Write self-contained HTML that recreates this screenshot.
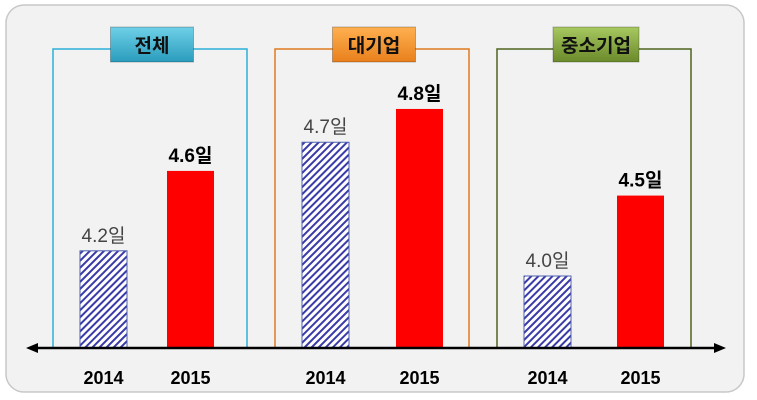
<!DOCTYPE html>
<html><head><meta charset="utf-8"><style>
html,body{margin:0;padding:0;background:#fff;}
svg{display:block;font-family:"Liberation Sans","Noto Sans CJK KR",sans-serif;}
</style></head><body>
<svg id="chart" width="757" height="400" viewBox="0 0 757 400">
<defs>
<pattern id="hatch" width="5" height="5" patternUnits="userSpaceOnUse" patternTransform="rotate(45)">
<rect width="5" height="5" fill="#fff"/><rect width="2" height="5" fill="#3a3aa8"/></pattern>
<linearGradient id="g0" x1="0" y1="0" x2="0" y2="1"><stop offset="0" stop-color="#6fd0e8"/><stop offset="1" stop-color="#2a9cbc"/></linearGradient>
<linearGradient id="g1" x1="0" y1="0" x2="0" y2="1"><stop offset="0" stop-color="#ffb050"/><stop offset="1" stop-color="#e8801c"/></linearGradient>
<linearGradient id="g2" x1="0" y1="0" x2="0" y2="1"><stop offset="0" stop-color="#a8c860"/><stop offset="1" stop-color="#6a8a2c"/></linearGradient>
</defs>
<rect x="6" y="5" width="738" height="387" rx="18" fill="#f2f2f2" stroke="#c8c8c8" stroke-width="1.5"/>
<g id="groups"></g>
<line x1="32" y1="348" x2="720" y2="348" stroke="#000" stroke-width="2.5"/>
<polygon points="26,348 38,343 38,353" fill="#000"/>
<polygon points="726,348 714,343 714,353" fill="#000"/>
</svg>
<script>
const groups = ["전체", "대기업", "중소기업"];
const years = ["2014", "2015"];
const values2014 = [4.2, 4.7, 4.0];
const values2015 = [4.6, 4.8, 4.5];

const NS = "http://www.w3.org/2000/svg";
const baseY = 348;
function hScale(v){ return 72*Math.exp(1.5*(v-4.0)); }
const frameX = [53, 275, 497];
const frameColors = ["#2ab0d8", "#e07a20", "#4e6420"];
const grads = ["url(#g0)", "url(#g1)", "url(#g2)"];
const labelW = [83, 83, 86];
const off2015 = [114, 121, 120];
const g = document.getElementById("groups");
function mk(tag, attrs){ const e=document.createElementNS(NS,tag); for(const k in attrs) e.setAttribute(k,attrs[k]); g.appendChild(e); return e; }

groups.forEach((name,i)=>{
  const fx = frameX[i], fw = 194;
  const fr = mk("path",{d:`M${fx},${baseY} V49 H${fx+fw} V${baseY}`,fill:"none",stroke:frameColors[i],"stroke-width":1.5});
  
  
  const lx = fx + fw/2 - labelW[i]/2 + 2;
  const lb = mk("rect",{x:lx,y:27,width:labelW[i],height:35,fill:grads[i],stroke:"rgba(0,0,0,0.25)"});
  
  
  const lt = mk("text",{x:lx+labelW[i]/2,y:52,"text-anchor":"middle","font-size":19,"font-weight":"bold",fill:"#111"});
  lt.textContent = name;
  
  
  const vals = [values2014[i], values2015[i]];
  const bx = [fx+27, fx+off2015[i]];
  vals.forEach((v,j)=>{
    const h = hScale(v);
    const b = mk("rect",{x:bx[j],y:baseY-h,width:47,height:h,fill:j===0?"url(#hatch)":"#ff0000",stroke:j===0?"#5060b0":"none","stroke-width":1});
    
    
    const t = mk("text",{x:bx[j]+23.5,y:baseY-h-9,"text-anchor":"middle","font-size":19,"font-weight":j===0?"normal":"bold",fill:j===0?"#444":"#000"});
    t.textContent = v.toFixed(1)+"일";
    
    
    const y = mk("text",{x:bx[j]+23.5,y:384,"text-anchor":"middle","font-size":18,"font-weight":"bold",fill:"#000"});
    y.textContent = years[j];
    
    
  });
});
</script>
</body></html>
